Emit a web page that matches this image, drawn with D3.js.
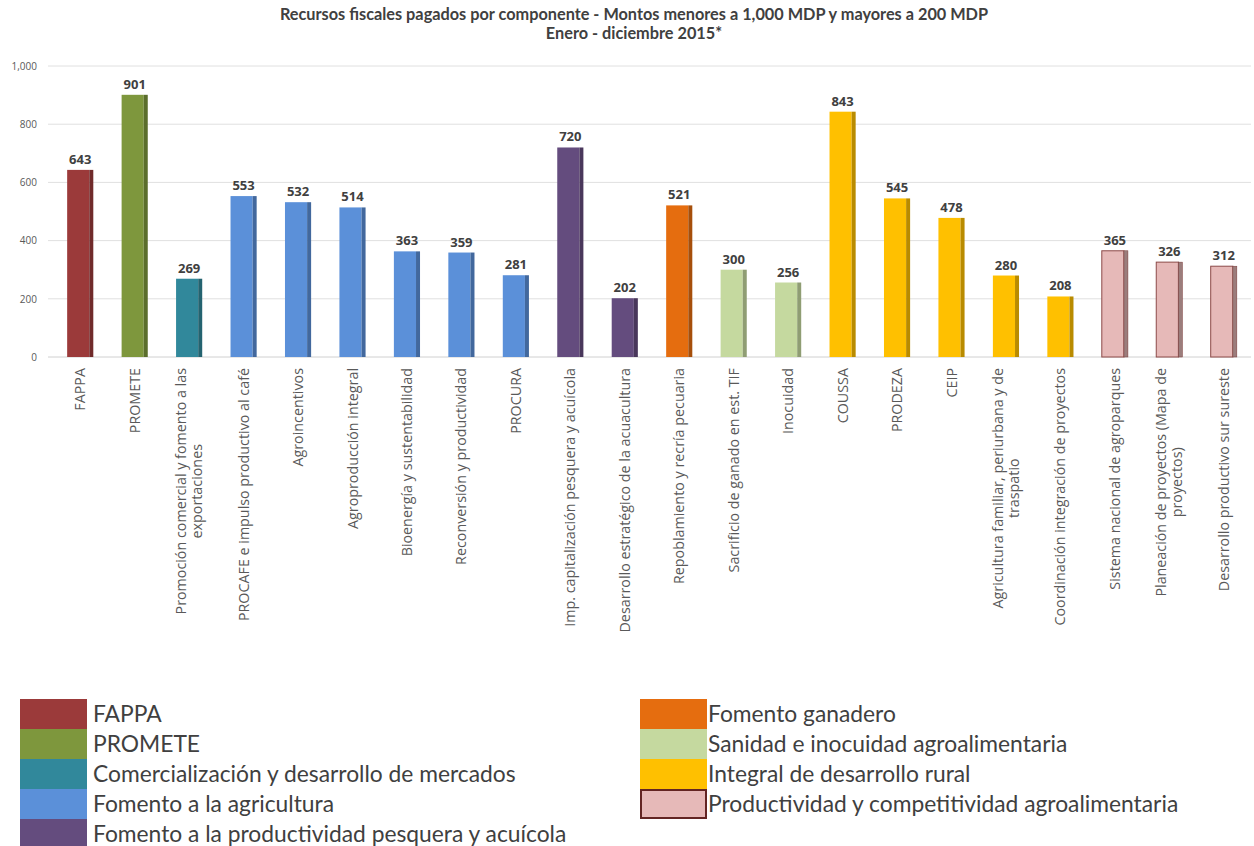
<!DOCTYPE html>
<html>
<head>
<meta charset="utf-8">
<script src="https://cdn.jsdelivr.net/npm/d3@7"></script>
<style>
  body { margin: 0; background: #fff; }
  svg { display: block; }
</style>
</head>
<body>
<div id="chart"></div>
<script>
(function() {

  // Components (bars), in order.
  const components = [
    'FAPPA', 'PROMETE', 'Promoción comercial y fomento a las exportaciones',
    'PROCAFE e impulso productivo al café', 'Agroincentivos', 'Agroproducción integral',
    'Bioenergía y sustentabilidad', 'Reconversión y productividad', 'PROCURA',
    'Imp. capitalización pesquera y acuícola', 'Desarrollo estratégico de la acuacultura',
    'Repoblamiento y recría pecuaria', 'Sacrificio de ganado en est. TIF', 'Inocuidad',
    'COUSSA', 'PRODEZA', 'CEIP', 'Agricultura familiar, periurbana y de traspatio',
    'Coordinación integración de proyectos', 'Sistema nacional de agroparques',
    'Planeación de proyectos (Mapa de proyectos)', 'Desarrollo productivo sur sureste'
  ];

  // Paid amounts, MDP.
  const amounts = [643, 901, 269, 553, 532, 514, 363, 359, 281, 720, 202,
                   521, 300, 256, 843, 545, 478, 280, 208, 365, 326, 312];

  // Programme each component belongs to (index into programs).
  const programOf = [0, 1, 2, 3, 3, 3, 3, 3, 3, 4, 4, 5, 6, 6, 7, 7, 7, 7, 7, 8, 8, 8];

  const programs = [
    'FAPPA', 'PROMETE', 'Comercialización y desarrollo de mercados',
    'Fomento a la agricultura', 'Fomento a la productividad pesquera y acuícola',
    'Fomento ganadero', 'Sanidad e inocuidad agroalimentaria',
    'Integral de desarrollo rural', 'Productividad y competitividad agroalimentaria'
  ];
  const programColors = ['#9b3a3a', '#7e973d', '#31889b', '#5b90d9', '#644c7e',
                         '#e56d0f', '#c5d99f', '#ffc000', '#e6b9b8'];

  const yTicks = [0, 200, 400, 600, 800, 1000];

  // Visualization size.
  const width = 1254;
  const height = 846;

  const svg = d3.select('#chart')
    .append('svg')
    .attr('width', width)
    .attr('height', height);

  // Title.
  const title = svg.append('text')
    .attr('x', 634)
    .attr('y', 20)
    .style('text-anchor', 'middle')
    .style('font-family', 'Lato')
    .style('font-weight', 'bold')
    .style('font-size', '16.3px')
    .style('fill', '#404040');
  title.append('tspan')
    .attr('x', 634)
    .text('Recursos fiscales pagados por componente - Montos menores a 1,000 MDP y mayores a 200 MDP');
  title.append('tspan')
    .attr('x', 634)
    .attr('dy', 19)
    .text('Enero - diciembre 2015*');

  // Scales.
  const x = d3.scaleBand()
    .domain(components)
    .range([53, 1251])
    .paddingInner(0.52)
    .paddingOuter(0.26);

  const y = d3.scaleLinear()
    .domain([0, 1000])
    .range([357, 66]);

  // Gridlines.
  svg.append('g')
    .selectAll('line')
    .data(yTicks)
    .enter()
    .append('line')
    .attr('x1', 48)
    .attr('x2', 1251)
    .attr('y1', d => y(d))
    .attr('y2', d => y(d))
    .style('stroke', d => d === 0 ? '#d0d0d0' : '#e0e0e0')
    .style('stroke-width', 1);

  // Y axis labels.
  const yAxis = svg.append('g')
    .attr('transform', 'translate(40, 0)')
    .call(d3.axisLeft(y).tickValues(yTicks).tickSize(0).tickPadding(3).tickFormat(d3.format(',')));
  yAxis.select('.domain').remove();
  yAxis.selectAll('text')
    .style('font-family', 'Open Sans')
    .style('font-size', '10px')
    .style('fill', '#595959');

  // Bars.
  const side = 4;
  const bars = svg.append('g')
    .selectAll('g')
    .data(components)
    .enter()
    .append('g');

  bars.append('rect')
    .attr('x', d => x(d))
    .attr('y', (d, i) => y(amounts[i]))
    .attr('width', x.bandwidth() - side)
    .attr('height', (d, i) => y(0) - y(amounts[i]))
    .style('fill', (d, i) => programColors[programOf[i]])
    .style('stroke', (d, i) => programOf[i] === 8 ? '#8c4a48' : 'none')
    .style('stroke-width', 1);

  bars.append('rect')
    .attr('x', d => x(d) + x.bandwidth() - side)
    .attr('y', (d, i) => y(amounts[i]))
    .attr('width', side)
    .attr('height', (d, i) => y(0) - y(amounts[i]))
    .style('fill', (d, i) => d3.color(programColors[programOf[i]]).darker(programOf[i] === 8 ? 1.1 : 0.9))
    .style('stroke', (d, i) => programOf[i] === 8 ? '#7a3a38' : 'none')
    .style('stroke-width', 0.5);

  // Value labels.
  bars.append('text')
    .text((d, i) => amounts[i])
    .attr('x', d => x(d) + x.bandwidth() / 2)
    .attr('y', (d, i) => y(amounts[i]) - 6)
    .style('text-anchor', 'middle')
    .style('font-family', 'Open Sans')
    .style('font-weight', 'bold')
    .style('font-size', '13px')
    .style('fill', '#404040');

  // Category labels, rotated, wrapped when too long.
  const labels = svg.append('g')
    .selectAll('text')
    .data(components)
    .enter()
    .append('text')
    .attr('transform', d => `translate(${x(d) + x.bandwidth() / 2}, 368) rotate(-90)`)
    .style('font-family', 'Open Sans')
    .style('font-size', '14.3px')
    .style('fill', '#595959');

  labels.each(function(d) {
    const el = d3.select(this);
    const words = d.split(' ');
    const lines = [];
    let line = [];
    const probe = el.append('tspan');
    words.forEach(w => {
      line.push(w);
      probe.text(line.join(' '));
      if (probe.node().getComputedTextLength() > 280 && line.length > 1) {
        line.pop();
        lines.push(line.join(' '));
        line = [w];
      }
    });
    lines.push(line.join(' '));
    probe.remove();
    const lh = 16;
    const offset = -(lines.length - 1) * lh / 2;
    lines.forEach((l, k) => {
      el.append('tspan')
        .attr('y', offset + k * lh + 5)
        .style('text-anchor', 'middle')
        .text(l);
    });
    // Lines are centred on each other, the block ends at the axis.
    const maxLen = d3.max(el.selectAll('tspan').nodes(), n => n.getComputedTextLength());
    el.selectAll('tspan').attr('x', -maxLen / 2);
  });

  // Legend.
  const legend = svg.append('g')
    .selectAll('g')
    .data(programs)
    .enter()
    .append('g')
    .attr('transform', (d, i) => i < 5
      ? `translate(20, ${699 + i * 30})`
      : `translate(640, ${699 + (i - 5) * 30})`);

  legend.append('rect')
    .attr('x', (d, i) => i === 8 ? 1 : 0)
    .attr('y', (d, i) => i === 8 ? 1 : 0)
    .attr('width', (d, i) => i === 8 ? 65 : 67)
    .attr('height', (d, i) => i === 8 ? 28 : 30)
    .style('fill', (d, i) => programColors[i])
    .style('stroke', (d, i) => i === 8 ? '#632523' : 'none')
    .style('stroke-width', 2);

  legend.append('text')
    .text(d => d)
    .attr('x', (d, i) => i < 5 ? 73 : 68)
    .attr('y', 23)
    .style('font-family', 'Lato')
    .style('font-size', '22.8px')
    .style('fill', '#404040');

})();
</script>
</body>
</html>
